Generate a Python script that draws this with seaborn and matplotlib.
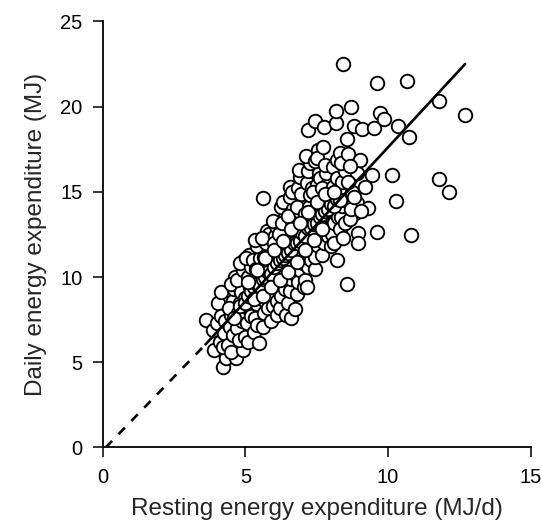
import matplotlib
matplotlib.use('Agg')
import matplotlib.pyplot as plt
import seaborn as sns
import pandas as pd

# resting vs daily energy expenditure
rest_mj = [
    3.62, 3.85, 3.90, 4.00, 4.05, 4.14, 4.21, 4.10, 4.15, 4.25, 4.30, 4.32, 4.20,
    4.40, 4.45, 4.50, 4.55, 4.42, 4.60, 4.58, 4.67, 4.50, 4.62, 4.48,
    4.70, 4.75, 4.80, 4.85, 4.72, 4.90, 4.93, 4.78, 4.88, 4.95, 4.82, 4.90,
    5.00, 5.05, 5.10, 5.00, 5.15, 5.08, 5.20, 5.12, 5.02, 5.18, 5.22, 5.10, 5.25,
    5.30, 5.35, 5.40, 5.32, 5.45, 5.38, 5.50, 5.42, 5.49, 5.47, 5.55, 5.33, 5.40, 5.52,
    5.60, 5.65, 5.70, 5.62, 5.75, 5.68, 5.80, 5.72, 5.75, 5.63, 5.78, 5.85, 5.66, 5.82, 5.58,
    5.90, 5.95, 6.00, 5.92, 6.05, 5.98, 6.10, 6.02, 6.08, 5.95, 6.12, 6.15, 5.88, 6.10, 6.00, 6.14,
    6.20, 6.25, 6.30, 6.22, 6.35, 6.28, 6.40, 6.32, 6.38, 6.25, 6.42, 6.45, 6.18, 6.33, 6.40, 6.27,
    6.50, 6.55, 6.60, 6.52, 6.65, 6.58, 6.70, 6.62, 6.68, 6.55, 6.57, 6.59, 6.74, 6.72, 6.48, 6.63, 6.75, 6.50,
    6.80, 6.85, 6.90, 6.82, 6.95, 6.88, 7.00, 6.92, 6.98, 6.85, 6.92, 7.05, 6.78, 7.02, 6.95, 6.80, 7.05, 6.88,
    7.10, 7.15, 7.20, 7.12, 7.25, 7.18, 7.30, 7.22, 7.28, 7.15, 7.21, 7.21, 7.30, 7.08, 7.26, 7.32, 7.12,
    7.44, 7.45, 7.50, 7.42, 7.55, 7.48, 7.60, 7.52, 7.58, 7.45, 7.56, 7.44, 7.62, 7.40, 7.60, 7.50, 7.38,
    7.70, 7.75, 7.80, 7.72, 7.85, 7.78, 7.90, 7.82, 7.73, 7.76, 7.88, 7.70, 7.92, 7.80, 7.95,
    8.00, 8.05, 8.10, 8.02, 8.15, 8.08, 8.20, 8.08, 8.18, 8.18, 8.12, 8.20, 8.00, 8.25, 8.22,
    8.32, 8.30, 8.35, 8.40, 8.45, 8.38, 8.50, 8.41, 8.55, 8.55, 8.48, 8.35, 8.50, 8.42,
    8.61, 8.69, 8.79, 8.84, 8.90, 8.90, 8.93, 8.93, 9.02, 8.65, 8.70, 8.75, 8.60, 8.80, 8.65,
    9.08, 9.31, 9.45, 9.51, 9.60, 9.60, 9.70, 9.84, 10.13, 10.28, 10.34, 10.65, 10.74,
    10.79, 11.78, 11.79, 12.15, 12.69, 9.20, 9.05,
    # dense band along the fitted line
    4.60, 4.80, 5.00, 5.10, 5.20, 5.30, 5.40, 5.50, 5.60, 5.70, 5.80, 5.90,
    6.00, 6.10, 6.20, 6.30, 6.40, 6.50, 6.60, 6.70, 6.80, 6.90, 7.00, 7.10,
    7.20, 7.30, 7.40, 7.50, 7.60, 7.70, 7.80, 7.90, 8.00, 8.10, 8.20, 8.30,
    5.30, 5.60, 5.90, 6.20, 6.50, 6.80, 7.10, 7.40, 7.70,
    5.10, 5.40, 5.70, 6.00, 6.30, 6.60, 6.90, 7.20, 7.50, 7.80, 8.10,
]
daily_mj = [
    7.49, 6.90, 5.73, 7.30, 8.47, 9.15, 4.75, 6.20, 7.70, 6.70, 7.40, 5.24, 5.90,
    6.00, 7.10, 7.80, 8.60, 8.20, 9.30, 6.60, 5.24, 5.60, 10.00, 9.60,
    7.00, 7.90, 8.50, 9.10, 9.80, 10.40, 5.73, 6.30, 7.40, 11.00, 10.80, 8.00,
    6.50, 7.30, 8.20, 8.80, 9.40, 10.00, 10.60, 11.30, 11.10, 7.70, 9.00, 6.20, 11.00,
    6.80, 7.60, 8.40, 9.10, 9.80, 10.50, 11.10, 11.80, 6.12, 8.80, 10.20, 12.20, 7.20, 9.30,
    7.10, 7.90, 8.60, 9.40, 10.10, 10.80, 11.40, 12.00, 12.73, 14.62, 8.20, 9.80, 11.20, 12.50, 12.30,
    7.40, 8.30, 9.00, 9.70, 10.40, 11.00, 11.70, 12.40, 13.00, 13.30, 7.80, 9.30, 10.70, 8.60, 12.00, 10.00,
    8.20, 8.90, 9.60, 10.30, 11.00, 11.60, 12.20, 12.90, 13.50, 14.10, 7.80, 10.60, 12.50, 14.40, 9.30, 13.20,
    8.50, 9.20, 9.90, 10.60, 11.30, 12.00, 12.60, 13.30, 14.00, 14.70, 15.30, 7.62, 8.11, 10.20, 11.80, 15.00, 11.60, 13.60,
    9.00, 9.70, 10.40, 11.10, 11.80, 12.50, 13.10, 13.80, 14.50, 15.20, 15.90, 9.40, 12.20, 10.80, 14.90, 14.10, 12.30, 16.30,
    9.80, 9.44, 10.60, 11.30, 12.00, 12.70, 13.40, 14.10, 14.80, 15.50, 16.20, 18.63, 11.00, 13.70, 16.70, 15.20, 17.10,
    10.50, 11.20, 11.90, 12.60, 13.30, 14.00, 14.70, 15.40, 16.10, 16.80, 17.46, 19.16, 12.30, 13.70, 15.80, 17.00, 15.00,
    11.30, 12.00, 12.70, 13.40, 14.10, 14.80, 15.50, 16.10, 17.61, 18.79, 12.40, 15.20, 13.60, 16.60, 14.60,
    11.80, 12.50, 13.20, 13.90, 14.60, 15.30, 11.01, 16.48, 19.02, 19.75, 12.00, 15.80, 14.40, 13.50, 16.90,
    17.30, 12.80, 13.50, 14.20, 14.90, 15.60, 16.20, 22.50, 18.12, 9.62, 13.20, 16.70, 14.50, 12.30,
    17.22, 20.00, 18.87, 13.78, 14.33, 16.09, 12.61, 12.02, 16.87, 13.40, 14.00, 15.00, 15.60, 14.70, 16.50,
    18.67, 14.04, 16.01, 18.73, 12.63, 21.37, 19.65, 19.26, 16.01, 14.49, 18.87, 21.49, 18.24,
    12.49, 20.35, 15.78, 15.00, 19.49, 15.30, 13.90,
    7.60, 8.30, 8.50, 8.90, 9.20, 9.40, 9.60, 9.50, 9.90, 10.00, 10.30, 10.20,
    10.60, 10.80, 11.00, 11.10, 11.30, 11.40, 11.60, 12.00, 12.00, 12.10, 12.60, 12.40,
    12.90, 12.90, 13.10, 13.20, 13.50, 13.70, 13.90, 14.00, 14.30, 14.20, 14.60, 14.50,
    8.70, 8.90, 9.40, 9.80, 10.30, 10.90, 11.60, 12.20, 12.80,
    9.70, 10.40, 11.10, 11.60, 12.10, 12.80, 13.20, 13.80, 14.40, 14.90, 15.00,
]

# regression line: dashed extrapolation to the origin, solid over the data
fit_x = [3.6, 12.7]
fit_y = [6.05, 22.5]
extrap_x = [0.1, 3.6]
extrap_y = [0.0, 6.05]

df = pd.DataFrame({'rest': rest_mj, 'daily': daily_mj})

sns.set_style('ticks')
plt.rcParams['font.family'] = ['Liberation Sans', 'DejaVu Sans']

fig = plt.figure(figsize=(5.41, 5.24), dpi=100)
ax = fig.add_axes([0.19, 0.146, 0.791, 0.813])

sns.scatterplot(data=df, x='rest', y='daily', ax=ax, s=95, facecolor='white',
                edgecolor='black', linewidth=1.35, zorder=2)
sns.lineplot(x=fit_x, y=fit_y, ax=ax, color='black', linewidth=1.9, zorder=3)
ax.plot(extrap_x, extrap_y, color='black', linewidth=1.9, dashes=(3.5, 3.5), zorder=3)

ax.set_xlim(0, 15)
ax.set_ylim(0, 25)
ax.set_xticks([0, 5, 10, 15])
ax.set_yticks([0, 5, 10, 15, 20, 25])
ax.tick_params(direction='out', length=7.5, width=1.1, labelsize=14.5, pad=7, colors='black')
ax.set_xlabel('Resting energy expenditure (MJ/d)', fontsize=17.5, labelpad=8)
ax.set_ylabel('Daily energy expenditure (MJ)', fontsize=17.5, labelpad=10)

sns.despine(ax=ax)
for s in ['left', 'bottom']:
    ax.spines[s].set_linewidth(1.3)
    ax.spines[s].set_color('black')

fig.savefig('out.png', dpi=100)
